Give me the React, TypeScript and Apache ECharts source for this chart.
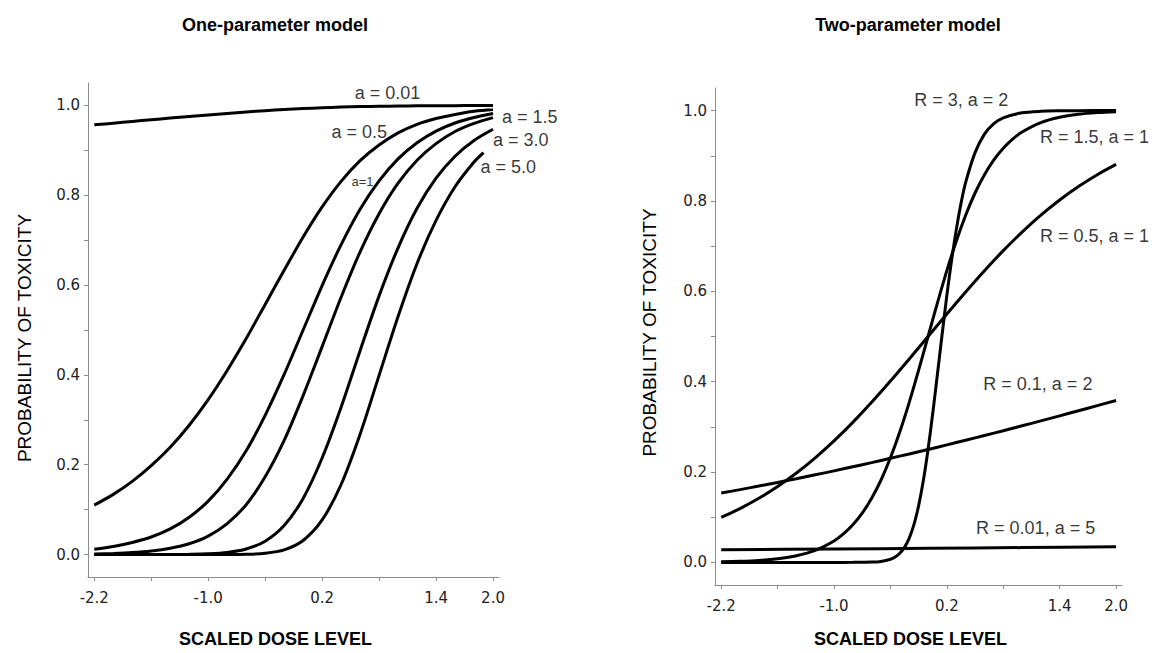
import React, { useEffect, useRef } from "react";
import * as echarts from "echarts";

// ---------- texts ----------
const panelTitles = ["One-parameter model", "Two-parameter model"];
const xAxisTitle = "SCALED DOSE LEVEL";
const yAxisTitle = "PROBABILITY OF TOXICITY";

// ---------- ticks ----------
const xTickValues = [-2.2, -1.6, -1.0, -0.4, 0.2, 0.8, 1.4, 2.0];
const xLabelValues = [-2.2, -1.0, 0.2, 1.4, 2.0];
const yTickValues = [0, 0.1, 0.2, 0.3, 0.4, 0.5, 0.6, 0.7, 0.8, 0.9, 1.0];
const yLabelValues = [0, 0.2, 0.4, 0.6, 0.8, 1.0];

// ---------- one-parameter model (dose grid) ----------
const doseOne = [-2.2, -2.0, -1.8, -1.6, -1.4, -1.2, -1.0, -0.8, -0.6, -0.4, -0.2, 0, 0.2, 0.4, 0.6, 0.8, 1.0, 1.2, 1.4, 1.6, 1.8, 2.0];
const probA001 = [0.9568, 0.9606, 0.9644, 0.9681, 0.9718, 0.9754, 0.979, 0.9823, 0.9855, 0.9884, 0.9909, 0.9931, 0.9949, 0.9963, 0.9974, 0.9982, 0.9987, 0.9991, 0.9994, 0.9996, 0.9997, 0.9998];
const probA05 = [0.110, 0.134, 0.163, 0.198, 0.239, 0.288, 0.345, 0.410, 0.481, 0.557, 0.633, 0.707, 0.774, 0.831, 0.877, 0.912, 0.939, 0.958, 0.971, 0.980, 0.987, 0.991];
const probA1 = [0.012, 0.018, 0.027, 0.039, 0.057, 0.083, 0.119, 0.168, 0.231, 0.310, 0.401, 0.500, 0.599, 0.690, 0.769, 0.832, 0.881, 0.917, 0.943, 0.961, 0.973, 0.982];
const probA15 = [0.0013, 0.0024, 0.0043, 0.0078, 0.014, 0.024, 0.041, 0.069, 0.111, 0.173, 0.254, 0.354, 0.463, 0.573, 0.674, 0.759, 0.827, 0.878, 0.915, 0.942, 0.960, 0.973];
const probA3 = [0.0, 0.0, 0.0, 0.0001, 0.0002, 0.0006, 0.0017, 0.0047, 0.0124, 0.0298, 0.0646, 0.125, 0.215, 0.328, 0.454, 0.576, 0.683, 0.771, 0.838, 0.887, 0.922, 0.947];
const doseA5 = [-2.2, -2.0, -1.8, -1.6, -1.4, -1.2, -1.0, -0.8, -0.6, -0.4, -0.2, 0, 0.2, 0.4, 0.6, 0.8, 1.0, 1.2, 1.4, 1.6, 1.8, 1.9];
const probA5 = [0.0, 0.0, 0.0, 0.0, 0.0, 0.0, 0.0, 0.0001, 0.0007, 0.0029, 0.0104, 0.0313, 0.077, 0.156, 0.268, 0.399, 0.530, 0.648, 0.744, 0.819, 0.874, 0.895];

// ---------- two-parameter model ----------
const doseR3 = [-2.2, -1.8, -1.4, -1.0, -0.8, -0.6, -0.5, -0.4, -0.35, -0.3, -0.25, -0.2, -0.15, -0.1, -0.05, 0, 0.05, 0.1, 0.15, 0.2, 0.25, 0.3, 0.35, 0.4, 0.5, 0.6, 0.7, 0.8, 1.0, 1.2, 1.4, 1.6, 2.0];
const probR3 = [0.0, 0.0, 0.0, 0.0, 0.0001, 0.0007, 0.0022, 0.0069, 0.0119, 0.0201, 0.0333, 0.0536, 0.0836, 0.1256, 0.1811, 0.25, 0.33, 0.417, 0.505, 0.591, 0.668, 0.736, 0.794, 0.841, 0.907, 0.948, 0.971, 0.984, 0.995, 0.9985, 0.9996, 0.9999, 1.0];
const doseR15 = [-2.2, -2.0, -1.8, -1.6, -1.4, -1.2, -1.0, -0.9, -0.8, -0.7, -0.6, -0.5, -0.4, -0.3, -0.2, -0.1, 0, 0.1, 0.2, 0.3, 0.4, 0.5, 0.6, 0.7, 0.8, 0.9, 1.0, 1.2, 1.4, 1.6, 1.8, 2.0];
const probR15 = [0.0014, 0.0025, 0.0045, 0.0082, 0.0148, 0.0266, 0.0474, 0.063, 0.0832, 0.1091, 0.1419, 0.1824, 0.2315, 0.2891, 0.3543, 0.4256, 0.5, 0.5744, 0.6457, 0.7109, 0.7685, 0.8176, 0.8581, 0.8909, 0.9168, 0.937, 0.9526, 0.9734, 0.9852, 0.9918, 0.9955, 0.9975];
const doseTwo = [-2.2, -2.0, -1.8, -1.6, -1.4, -1.2, -1.0, -0.8, -0.6, -0.4, -0.2, 0, 0.2, 0.4, 0.6, 0.8, 1.0, 1.2, 1.4, 1.6, 1.8, 2.0];
const probR05 = [0.0998, 0.1192, 0.1419, 0.168, 0.1978, 0.2315, 0.2689, 0.31, 0.3543, 0.4013, 0.4502, 0.5, 0.5498, 0.5987, 0.6457, 0.69, 0.7311, 0.7685, 0.8022, 0.832, 0.8581, 0.8808];
const probR01 = [0.1535, 0.1611, 0.1689, 0.177, 0.1853, 0.1939, 0.2026, 0.2117, 0.2209, 0.2304, 0.2401, 0.25, 0.2601, 0.2704, 0.2809, 0.2915, 0.3023, 0.3133, 0.3244, 0.3356, 0.347, 0.3584];
const doseR001 = [-2.2, -1.0, 0, 1.0, 2.0];
const probR001 = [0.028, 0.0297, 0.0313, 0.0328, 0.0345];

// ---------- curve labels (text, anchor in data units, left padding px) ----------
const oneLabels = [
  { text: "a = 0.01", at: [0.544, 1.028], pad: 0, size: 18 },
  { text: "a = 0.5", at: [0.299, 0.942], pad: 0, size: 18 },
  { text: "a=1", at: [0.509, 0.83], pad: 0, size: 13 },
  { text: "a = 1.5", at: [2.0, 0.974], pad: 9, size: 18 },
  { text: "a = 3.0", at: [2.0, 0.922], pad: 0, size: 18 },
  { text: "a = 5.0", at: [1.867, 0.862], pad: 0, size: 18 },
];
const twoLabels = [
  { text: "R = 3, a = 2", at: [-0.147, 1.024], pad: 0, size: 18 },
  { text: "R = 1.5, a = 1", at: [1.19, 0.942], pad: 0, size: 18 },
  { text: "R = 0.5, a = 1", at: [1.19, 0.722], pad: 0, size: 18 },
  { text: "R = 0.1, a = 2", at: [0.588, 0.394], pad: 0, size: 18 },
  { text: "R = 0.01, a = 5", at: [0.511, 0.077], pad: 0, size: 18 },
];

const X_MIN = -2.266;
const X_MAX = 2.063;
const Y_MIN = -0.05;
const Y_MAX = 1.05;

const SANS = '"Liberation Sans", Arial, Helvetica, sans-serif';
const TICK_FONT = '"DejaVu Sans", sans-serif';
const AXIS_GRAY = "#8c8c8c";

const zip = (xs: number[], ys: number[]) => xs.map((x, i) => [x, ys[i]]);

function makeXAxis(gridIndex: number, nameGap: number, namePad: number[]) {
  return {
    type: "value",
    gridIndex,
    min: X_MIN,
    max: X_MAX,
    axisLine: { show: true, onZero: false, lineStyle: { color: AXIS_GRAY, width: 1 } },
    axisTick: { show: true, length: 4, customValues: xTickValues, lineStyle: { color: AXIS_GRAY, width: 1 } },
    axisLabel: {
      customValues: xLabelValues,
      formatter: (v: number) => v.toFixed(1),
      margin: 13,
      fontSize: 15,
      fontFamily: TICK_FONT,
      color: "#222",
    },
    splitLine: { show: false },
    name: xAxisTitle,
    nameLocation: "middle",
    nameGap,
    nameTextStyle: { fontSize: 18, fontWeight: "bold", fontFamily: SANS, color: "#000", padding: namePad },
  };
}

function makeYAxis(gridIndex: number, nameGap: number, namePad: number[]) {
  return {
    type: "value",
    gridIndex,
    min: Y_MIN,
    max: Y_MAX,
    axisLine: { show: true, onZero: false, lineStyle: { color: AXIS_GRAY, width: 1 } },
    axisTick: { show: true, length: 4, customValues: yTickValues, lineStyle: { color: AXIS_GRAY, width: 1 } },
    axisLabel: {
      customValues: yLabelValues,
      formatter: (v: number) => v.toFixed(1),
      margin: 8,
      fontSize: 15,
      fontFamily: TICK_FONT,
      color: "#222",
    },
    splitLine: { show: false },
    name: yAxisTitle,
    nameLocation: "middle",
    nameGap,
    nameRotate: 90,
    nameTextStyle: { fontSize: 19, fontFamily: SANS, color: "#000", padding: namePad },
  };
}

function curve(name: string, xs: number[], ys: number[], axis: number) {
  return {
    name,
    type: "line",
    xAxisIndex: axis,
    yAxisIndex: axis,
    data: zip(xs, ys),
    showSymbol: false,
    symbol: "none",
    smooth: 0.3,
    lineStyle: { color: "#000", width: 3 },
    silent: true,
    z: 3,
  };
}

function labelSeries(labels: typeof oneLabels, axis: number) {
  return {
    type: "scatter",
    xAxisIndex: axis,
    yAxisIndex: axis,
    data: labels.map((l) => ({
      value: l.at,
      label: {
        show: true,
        formatter: l.text,
        position: "right",
        distance: l.pad,
        fontSize: l.size,
        fontFamily: SANS,
        color: "#000",
      },
    })),
    symbolSize: 0,
    silent: true,
    clip: false,
    z: 5,
  };
}

function titleText(text: string, x: number) {
  return {
    type: "text",
    x,
    y: 25,
    style: {
      text,
      fontSize: 18,
      fontWeight: "bold",
      fontFamily: SANS,
      fill: "#000",
      align: "center",
      verticalAlign: "middle",
    },
  };
}

export default function App() {
  const ref = useRef<HTMLDivElement>(null);

  useEffect(() => {
    if (!ref.current) return;
    const chart = echarts.init(ref.current, null, { renderer: "svg" });
    const option: any = {
      animation: false,
      backgroundColor: "#fff",
      grid: [
        { left: 88, top: 83, width: 411, height: 503 },
        { left: 715, top: 88, width: 407, height: 498 },
      ],
      xAxis: [makeXAxis(0, 53, [0, 36, 0, 0]), makeXAxis(1, 45, [0, 16, 0, 0])],
      yAxis: [makeYAxis(0, 54, [0, 16, 0, 0]), makeYAxis(1, 56, [0, 0, 0, 8])],
      graphic: [titleText(panelTitles[0], 275), titleText(panelTitles[1], 908)],
      series: [
        curve("a = 0.01", doseOne, probA001, 0),
        curve("a = 0.5", doseOne, probA05, 0),
        curve("a = 1", doseOne, probA1, 0),
        curve("a = 1.5", doseOne, probA15, 0),
        curve("a = 3.0", doseOne, probA3, 0),
        curve("a = 5.0", doseA5, probA5, 0),
        labelSeries(oneLabels, 0),
        curve("R = 3, a = 2", doseR3, probR3, 1),
        curve("R = 1.5, a = 1", doseR15, probR15, 1),
        curve("R = 0.5, a = 1", doseTwo, probR05, 1),
        curve("R = 0.1, a = 2", doseTwo, probR01, 1),
        curve("R = 0.01, a = 5", doseR001, probR001, 1),
        labelSeries(twoLabels, 1),
      ],
    };
    chart.setOption(option);
    return () => chart.dispose();
  }, []);

  return (
    <div
      ref={ref}
      style={{ position: "fixed", left: 0, top: 0, width: 1152, height: 653, background: "#fff" }}
    />
  );
}
